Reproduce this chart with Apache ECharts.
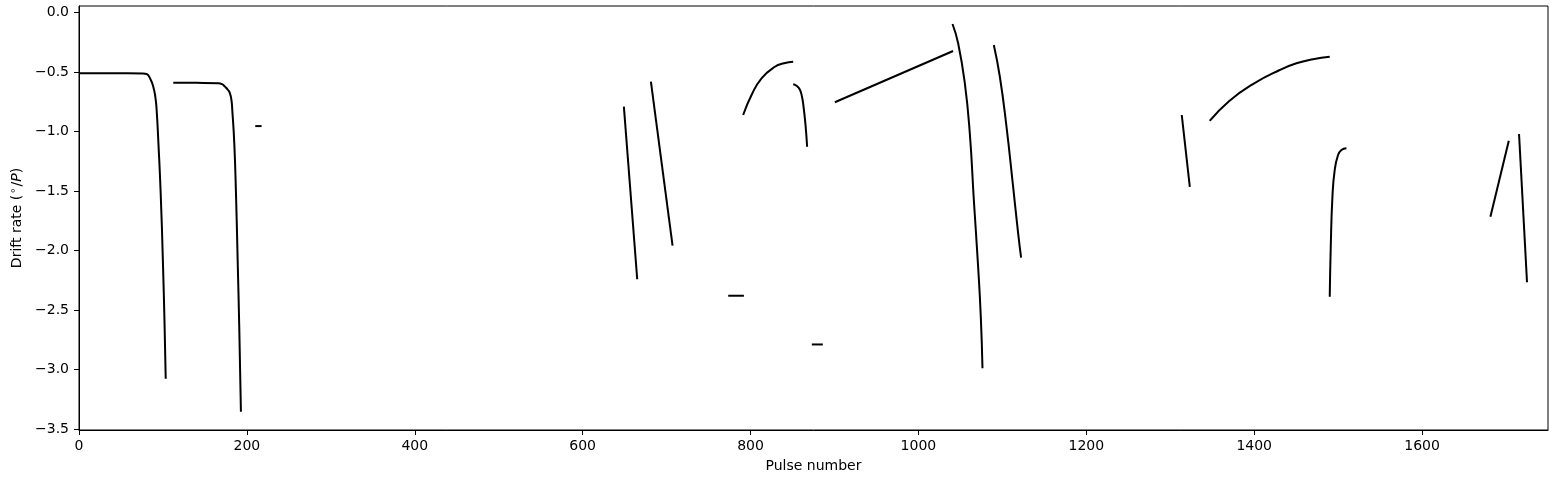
<!DOCTYPE html>
<html>
<head>
<meta charset="utf-8">
<script src="https://cdn.jsdelivr.net/npm/echarts@6/dist/echarts.min.js"></script>
<style>
  html, body { margin: 0; padding: 0; background: #fff; }
  #chart { width: 1558px; height: 480px; }
</style>
</head>
<body>
<div id="chart"></div>
<script>
// Tick labels
const xTicks = [0, 200, 400, 600, 800, 1000, 1200, 1400, 1600];
const yTicks = [-3.5, -3.0, -2.5, -2.0, -1.5, -1.0, -0.5, 0.0];

// Drift-rate track segments: [pulse number, drift rate]
const segA = [[0, -0.512], [40, -0.512], [76.2, -0.513], [80.6, -0.518], [84.6, -0.554], [88.5, -0.624], [91.1, -0.719], [92.5, -0.82], [94.6, -1.097], [97.3, -1.517], [99.9, -2.079], [102.0, -2.641], [103.3, -3.075]];
const segB = [[112.3, -0.591], [140, -0.592], [165.9, -0.595], [170.3, -0.603], [173.9, -0.624], [177.5, -0.652], [179.8, -0.68], [181.6, -0.736], [182.6, -0.82], [185.0, -1.10], [187.0, -1.519], [189.0, -2.079], [190.9, -2.639], [192.9, -3.352]];
const segDash1 = [[210, -0.955], [217.5, -0.955]];
const segC = [[649.1, -0.792], [665.0, -2.241]];
const segD = [[681.3, -0.582], [707.1, -1.959]];
const segDash2 = [[773.4, -2.379], [792.1, -2.379]];
const segE = [[791.2, -0.862], [801.2, -0.694], [813.1, -0.554], [829.0, -0.457], [840.0, -0.428], [850.8, -0.415]];
const segF = [[850.8, -0.604], [855.2, -0.618], [858.7, -0.648], [861.1, -0.703], [862.9, -0.778], [865.5, -0.946], [867.4, -1.128]];
const segDash3 = [[873.0, -2.788], [886.1, -2.788]];
const segH = [[900.4, -0.755], [1041.3, -0.325]];
const segI = [[1040.6, -0.098], [1047.3, -0.26], [1055.3, -0.596], [1061.2, -1.015], [1066.0, -1.575], [1071.1, -2.135], [1074.3, -2.555], [1076.3, -2.988]];
const segJ = [[1089.8, -0.274], [1097.0, -0.541], [1104.9, -0.96], [1112.8, -1.464], [1118.8, -1.855], [1122.3, -2.06]];
const segM = [[1313.7, -0.862], [1323.3, -1.466]];
const segL = [[1347.0, -0.912], [1370.0, -0.746], [1400.0, -0.596], [1430.4, -0.484], [1450.3, -0.428], [1470.1, -0.394], [1490.0, -0.373]];
const segN = [[1490.0, -2.387], [1491.2, -1.967], [1493.2, -1.548], [1495.9, -1.324], [1499.9, -1.198], [1503.9, -1.156], [1509.9, -1.142]];
const segO = [[1681.4, -1.716], [1703.3, -1.078]];
const segP = [[1715.5, -1.021], [1725.0, -2.266]];

const segments = [segA, segB, segDash1, segC, segD, segDash2, segE, segF, segDash3, segH, segI, segJ, segM, segL, segN, segO, segP];

const fmtMinus = s => s.replace('-', '\u2212');
const FONT = 'DejaVu Sans';

const chart = echarts.init(document.getElementById('chart'), null, { renderer: 'canvas' });
chart.setOption({
  backgroundColor: '#ffffff',
  animation: false,
  textStyle: { fontFamily: FONT },
  grid: {
    left: 79, right: 10, top: 6, bottom: 50,
    show: true, borderColor: '#000', borderWidth: 1, backgroundColor: 'transparent'
  },
  xAxis: {
    type: 'value',
    min: 0, max: 1750,
    name: 'Pulse number',
    nameLocation: 'middle',
    nameGap: 29,
    nameTextStyle: { fontFamily: FONT, fontSize: 14, color: '#000' },
    axisLine: { show: true, onZero: false, lineStyle: { color: '#000', width: 1 } },
    axisTick: { show: true, length: 5, inside: false, customValues: xTicks, lineStyle: { color: '#000', width: 1 } },
    axisLabel: { customValues: xTicks, margin: 9, fontFamily: FONT, fontSize: 14, color: '#000',
      formatter: v => fmtMinus(String(Math.round(v))) },
    splitLine: { show: false }
  },
  yAxis: {
    type: 'value',
    min: -3.506, max: 0.053,
    name: '{n|Drift rate (}{s|\u2218}{n|/}{i|P}{n|)}',
    nameLocation: 'middle',
    nameGap: 46,
    nameRotate: 90,
    nameTextStyle: {
      fontFamily: FONT, fontSize: 14, color: '#000',
      rich: {
        n: { fontFamily: FONT, fontSize: 14, color: '#000' },
        s: { fontFamily: FONT, fontSize: 10, color: '#000', padding: [0, 1, 7, 1] },
        i: { fontFamily: FONT, fontSize: 14, fontStyle: 'italic', color: '#000' }
      }
    },
    axisLine: { show: true, onZero: false, lineStyle: { color: '#000', width: 1 } },
    axisTick: { show: true, length: 5, inside: false, customValues: yTicks, lineStyle: { color: '#000', width: 1 } },
    axisLabel: { customValues: yTicks, margin: 10, fontFamily: FONT, fontSize: 14, color: '#000',
      formatter: v => fmtMinus(Number(v).toFixed(1)) },
    splitLine: { show: false }
  },
  series: segments.map(seg => ({
    type: 'line',
    data: seg,
    symbol: 'none',
    showSymbol: false,
    smooth: 0.5,
    clip: true,
    lineStyle: { color: '#000', width: 2, join: 'round' },
    emphasis: { disabled: true },
    silent: true
  }))
});
</script>
</body>
</html>
